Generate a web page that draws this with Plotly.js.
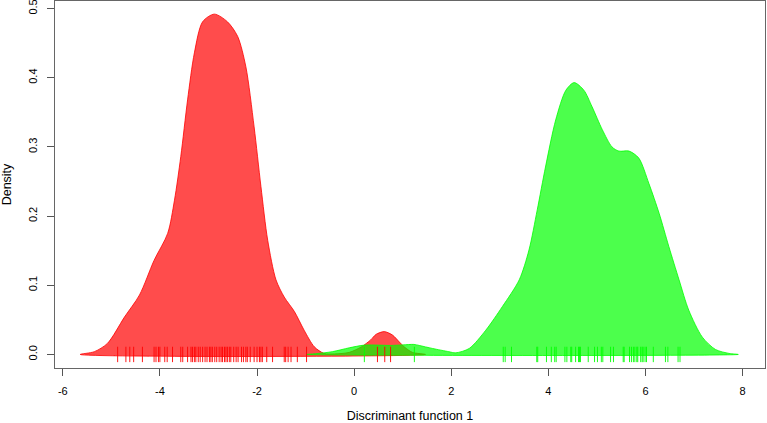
<!DOCTYPE html>
<html>
<head>
<meta charset="utf-8">
<script src="https://cdn.plot.ly/plotly-3.0.1.min.js"></script>
<style>html,body{margin:0;padding:0;background:#fff}#chart{width:767px;height:423px}</style>
</head>
<body>
<div id="chart"></div>
<script>
// Density curve of group 1 (red)
var redX = [-5.64,-5.35,-5.08,-4.73,-4.42,-4.12,-3.84,-3.70,-3.57,-3.43,-3.29,-3.12,-2.88,-2.61,-2.40,-2.23,-2.06,-1.92,-1.78,-1.61,-1.44,-1.23,-1.03,-0.82,-0.62,-0.40,-0.10,0.15,0.34,0.45,0.62,0.79,0.93,1.03,1.20,1.47];
var redY = [0,0.004,0.016,0.054,0.086,0.136,0.175,0.223,0.286,0.368,0.436,0.481,0.492,0.481,0.460,0.416,0.329,0.243,0.165,0.108,0.083,0.062,0.035,0.011,0.0015,0.0008,0.003,0.011,0.021,0.029,0.033,0.028,0.018,0.011,0.003,0];
// Density curve of group 2 (green)
var greenX = [-0.99,-0.80,-0.45,-0.10,0.21,0.50,0.75,1.00,1.23,1.34,1.61,1.95,2.09,2.37,2.71,3.05,3.40,3.60,3.77,3.94,4.15,4.36,4.53,4.73,4.90,5.11,5.31,5.45,5.66,5.86,6.07,6.28,6.48,6.69,6.89,7.17,7.44,7.72,7.91];
var greenY = [0,0.001,0.004,0.0096,0.0135,0.0135,0.013,0.0138,0.0145,0.013,0.0087,0.004,0.0023,0.0087,0.035,0.069,0.108,0.151,0.209,0.271,0.339,0.382,0.393,0.382,0.358,0.325,0.300,0.294,0.294,0.284,0.247,0.204,0.156,0.108,0.064,0.025,0.0072,0.0015,0];
// Rug observations
var redRug = [-4.87,-4.70,-4.62,-4.54,-4.36,-4.12,-4.08,-4.03,-4.00,-3.90,-3.85,-3.74,-3.57,-3.53,-3.43,-3.36,-3.33,-3.29,-3.26,-3.21,-3.17,-3.12,-3.07,-3.03,-2.98,-2.95,-2.92,-2.87,-2.83,-2.78,-2.74,-2.71,-2.67,-2.64,-2.61,-2.57,-2.54,-2.48,-2.43,-2.39,-2.32,-2.28,-2.23,-2.20,-2.14,-2.06,-2.00,-1.95,-1.92,-1.89,-1.80,-1.68,-1.44,-1.41,-1.36,-1.30,-1.17,-0.98,0.48,0.63,0.75];
var greenRug = [0.21,1.24,3.07,3.11,3.24,3.76,3.78,3.96,4.06,4.13,4.16,4.34,4.38,4.46,4.48,4.56,4.62,4.64,4.66,4.82,4.95,5.01,5.09,5.12,5.28,5.34,5.54,5.56,5.67,5.71,5.75,5.78,5.82,5.84,5.90,5.93,5.95,5.99,6.02,6.16,6.41,6.46,6.67,6.71];
var xTicks = [-6,-4,-2,0,2,4,6,8];
var yTicks = [0,0.1,0.2,0.3,0.4,0.5];
var yTickText = ['0.0','0.1','0.2','0.3','0.4','0.5'];

function closed(xs, ys){ return {x: xs.concat([xs[0]]), y: ys.concat([ys[0]])}; }
var rc = closed(redX, redY), gc = closed(greenX, greenY);
function zeros(a){ return a.map(function(){return 0;}); }

var traces = [
  {x: rc.x, y: rc.y, type:'scatter', mode:'lines', fill:'toself',
   fillcolor:'rgba(255,0,0,0.7)', line:{color:'rgba(255,0,0,0.8)', width:1, shape:'spline', smoothing:0.8}, hoverinfo:'skip'},
  {x: gc.x, y: gc.y, type:'scatter', mode:'lines', fill:'toself',
   fillcolor:'rgba(0,255,0,0.7)', line:{color:'rgba(0,255,0,0.8)', width:1, shape:'spline', smoothing:0.8}, hoverinfo:'skip'},
  {x: redRug, y: zeros(redRug), type:'scatter', mode:'markers',
   marker:{symbol:'line-ns', size:11, line:{color:'rgba(255,0,0,0.9)', width:1}}, hoverinfo:'skip'},
  {x: greenRug, y: zeros(greenRug), type:'scatter', mode:'markers',
   marker:{symbol:'line-ns', size:11, line:{color:'rgba(0,255,0,0.9)', width:1}}, hoverinfo:'skip'}
];

var fnt = {family:'"Liberation Sans", Arial, sans-serif', size:11, color:'#000'};
var tfnt = {family:'"Liberation Sans", Arial, sans-serif', size:12.5, color:'#000'};
var layout = {
  width:767, height:423,
  margin:{l:55, r:2, t:1, b:55},
  paper_bgcolor:'#fff', plot_bgcolor:'#fff',
  showlegend:false,
  font: fnt,
  xaxis:{range:[-6.16,8.46], tickvals:xTicks, ticktext:xTicks.map(String), ticks:'outside', ticklen:7, tickcolor:'#555',
         ticklabelstandoff:6, ticklabeloverflow:'allow',
         showgrid:false, zeroline:false, showline:true, mirror:true, linecolor:'#666', linewidth:1,
         tickfont:fnt, title:{text:'Discriminant function 1', font:tfnt, standoff:19}},
  yaxis:{range:[-0.0196,0.511], tickvals:yTicks, ticktext:yTickText, ticks:'outside', ticklen:7, tickcolor:'#555',
         ticklabelstandoff:6, ticklabeloverflow:'allow',
         tickangle:-90, showgrid:false, zeroline:false, showline:true, mirror:true, linecolor:'#666', linewidth:1,
         tickfont:fnt, title:{text:'Density', font:tfnt, standoff:14}}
};
Plotly.newPlot('chart', traces, layout, {displayModeBar:false, staticPlot:true});
</script>
</body>
</html>
